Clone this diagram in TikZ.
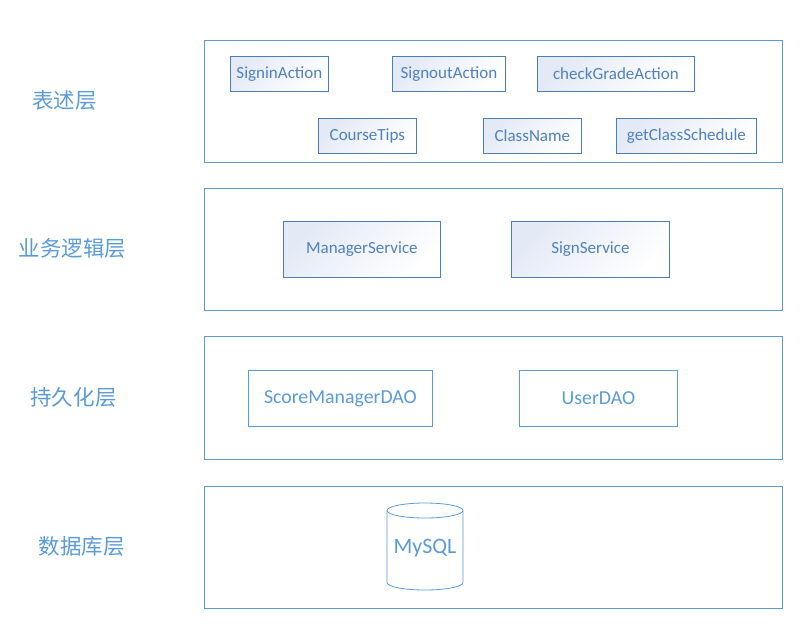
\documentclass[tikz,border=0pt]{standalone}
\usepackage{fontspec}
\setmainfont{Carlito}
\newfontfamily\cjk{Noto Sans CJK SC}
\usetikzlibrary{shapes.geometric}
\definecolor{lblue}{HTML}{5B9BD5}
\definecolor{dblue}{HTML}{4A7EBB}
\definecolor{tblue}{HTML}{4F81BD}
\definecolor{gfill}{HTML}{E3E9F5}
\tikzset{
  layerbox/.style={draw=lblue, line width=0.8pt},
  layerlabel/.style={text=lblue, font=\cjk\fontsize{21.5}{25}\selectfont, anchor=center, inner sep=0pt},
  gradbox/.style={draw=dblue, line width=0.8pt, top color=gfill, bottom color=white, shading angle=45, text=tblue, inner sep=0pt, anchor=north west},
  plainbox/.style={draw=lblue, line width=0.8pt, fill=white, text=lblue, inner sep=0pt, anchor=north west},
}
\begin{document}
\begin{tikzpicture}[x=1pt,y=-1pt]
\useasboundingbox[fill=white] (0,0) rectangle (811,630);
% layers
\draw[layerbox] (204,40) rectangle (782,162);
\draw[layerbox] (204,188) rectangle (782,310);
\draw[layerbox] (204,336) rectangle (782,459);
\draw[layerbox] (204,486) rectangle (782,608);
% labels
\node[layerlabel] (l1) at (64.5,100) {表述层};
\node[layerlabel] (l2) at (72.5,248) {业务逻辑层};
\node[layerlabel] (l3) at (73.5,397) {持久化层};
\node[layerlabel] (l4) at (81.5,546) {数据库层};
% presentation layer
\begin{scope}[every node/.append style={font=\fontsize{17}{20}\selectfont}]
\node[gradbox, minimum width=98pt, minimum height=35pt] (signin) at (230,56) {SigninAction};
\node[gradbox, minimum width=113pt, minimum height=35pt] (signout) at (392,56) {SignoutAction};
\node[gradbox, minimum width=157pt, minimum height=35pt] (check) at (537,56) {checkGradeAction};
\node[gradbox, minimum width=98pt, minimum height=35pt] (tips) at (318,118) {CourseTips};
\node[gradbox, minimum width=98pt, minimum height=35pt] (cname) at (483,118) {ClassName};
\node[gradbox, minimum width=140pt, minimum height=35pt] (sched) at (616,118) {getClassSchedule};
% business layer
\node[gradbox, minimum width=157pt, minimum height=56pt] (mgr) at (283,221) {ManagerService};
\node[gradbox, minimum width=158pt, minimum height=56pt] (sign) at (511,221) {SignService};
\end{scope}
% persistence layer
\begin{scope}[every node/.append style={font=\fontsize{19.8}{23}\selectfont}]
\node[plainbox, minimum width=184pt, minimum height=56pt] (smdao) at (248,370) {ScoreManagerDAO};
\node[plainbox, minimum width=158pt, minimum height=56pt] (udao) at (519,370) {UserDAO};
\end{scope}
% database
\draw[lblue, line width=0.8pt, fill=white] (387,510.5) -- (387,582.5) arc[start angle=180, end angle=0, x radius=38, y radius=7.5] -- (463,510.5);
\draw[lblue, line width=0.8pt] (425,510.5) ellipse[x radius=38, y radius=7.5];
\node[text=lblue, font=\fontsize{22}{26}\selectfont, inner sep=0pt] (mysql) at (425,548) {MySQL};
\end{tikzpicture}
\end{document}
